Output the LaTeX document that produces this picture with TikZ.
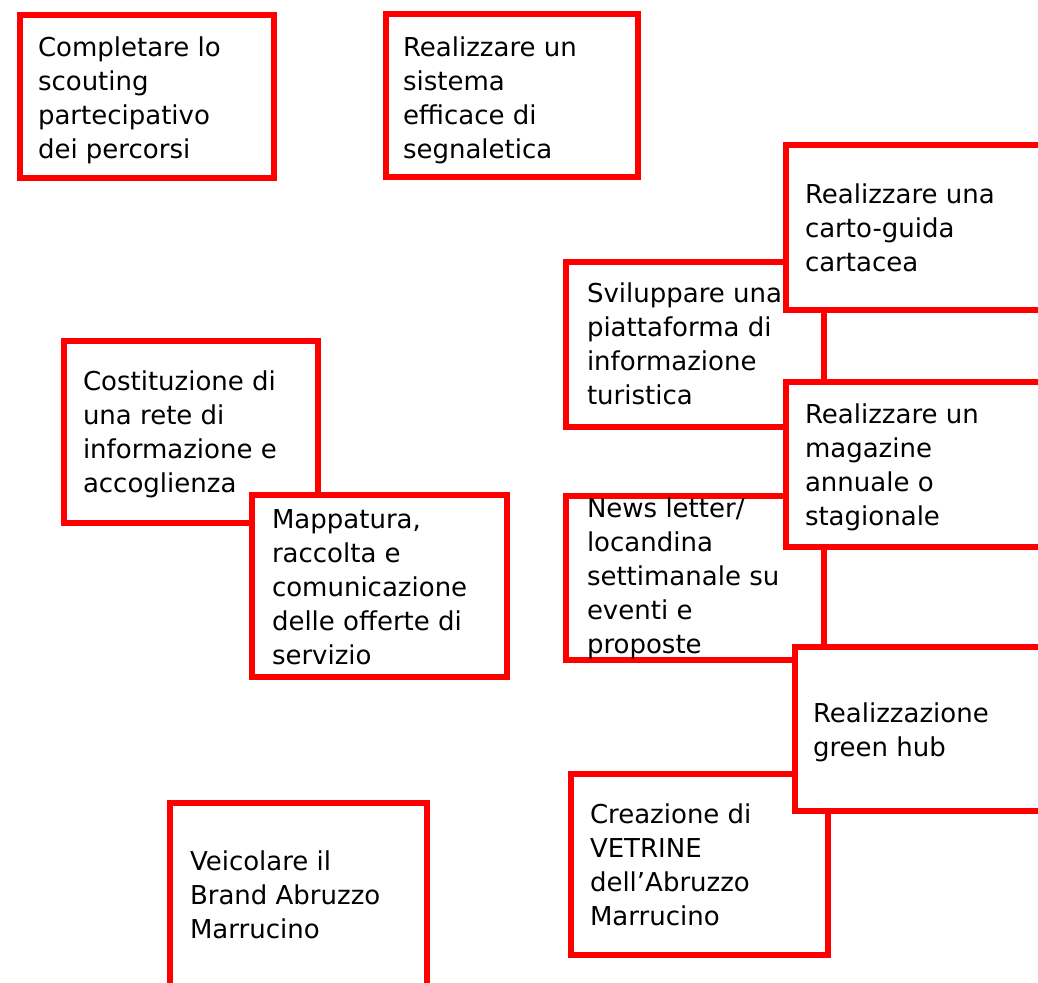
\documentclass[tikz,border=0pt]{standalone}
\usepackage{fontspec}
\setmainfont{DejaVu Sans}
\definecolor{boxred}{RGB}{255,0,0}
\tikzset{
  box/.style={draw=boxred, line width=6bp, fill=white, rectangle, inner sep=0pt, outer sep=0pt, anchor=north west},
  txt/.style={anchor=north west, inner sep=0pt, outer sep=0pt, align=left, text=black,
    font=\fontsize{26bp}{34bp}\selectfont}
}
\newcommand{\fl}{\rule{0pt}{20bp}}
\begin{document}
\begin{tikzpicture}[x=1bp,y=-1bp]
\useasboundingbox (0,0) rectangle (1038,983);
\clip (0,0) rectangle (1038,983);
% top row
\node[box, minimum width=254bp, minimum height=163bp] (b1) at (20,15) {};
\node[txt] (t1) at (38,36) {\fl Completare lo\\scouting\\partecipativo\\dei percorsi};
\node[box, minimum width=252bp, minimum height=163bp] (b2) at (386,14) {};
\node[txt] (t2) at (403,36) {\fl Realizzare un\\sistema\\efficace di\\segnaletica};
% right column, back boxes
\node[box, minimum width=258bp, minimum height=165bp] (b3) at (566,262) {};
\node[txt] (t3) at (587,282) {\fl Sviluppare una\\piattaforma di\\informazione\\turistica};
\node[box, minimum width=258bp, minimum height=164bp] (b8) at (566,496) {};
\node[txt] (t8) at (587,497) {\fl News letter/\\locandina\\settimanale su\\eventi e\\proposte};
\node[box, minimum width=257bp, minimum height=181bp] (b10) at (571,774) {};
\node[txt] (t10) at (590,803) {\fl Creazione di\\VETRINE\\dell’Abruzzo\\Marrucino};
% right column, front boxes
\node[box, minimum width=280bp, minimum height=165bp] (b4) at (786,145) {};
\node[txt] (t4) at (805,183) {\fl Realizzare una\\carto-guida\\cartacea};
\node[box, minimum width=280bp, minimum height=165bp] (b7) at (786,382) {};
\node[txt] (t7) at (805,403) {\fl Realizzare un\\magazine\\annuale o\\stagionale};
\node[box, minimum width=270bp, minimum height=164bp] (b9) at (795,647) {};
\node[txt] (t9) at (813,702) {\fl Realizzazione\\green hub};
% left column
\node[box, minimum width=254bp, minimum height=182bp] (b5) at (64,341) {};
\node[txt] (t5) at (83,370) {\fl Costituzione di\\una rete di\\informazione e\\accoglienza};
\node[box, minimum width=255bp, minimum height=182bp] (b6) at (252,495) {};
\node[txt] (t6) at (272,508) {\fl Mappatura,\\raccolta e\\comunicazione\\delle offerte di\\servizio};
\node[box, minimum width=257bp, minimum height=200bp] (b11) at (170,803) {};
\node[txt] (t11) at (190,850) {\fl Veicolare il\\Brand Abruzzo\\Marrucino};
\end{tikzpicture}
\end{document}
